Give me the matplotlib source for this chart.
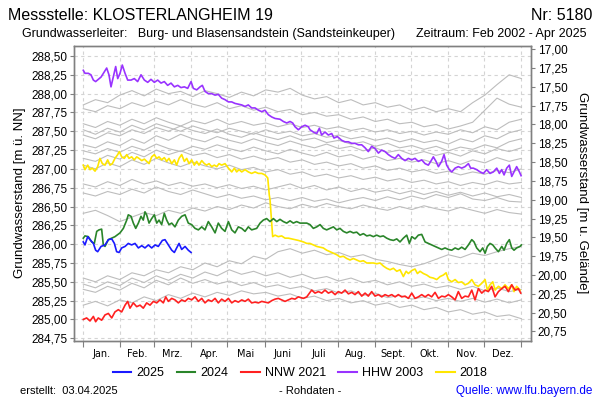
import numpy as np
import matplotlib
matplotlib.use("Agg")
import matplotlib.pyplot as plt
from matplotlib.lines import Line2D

plt.rcParams["font.family"] = ["Liberation Sans", "DejaVu Sans"]

# Gelaendeoberkante (m ue. NN), links Wasserstand, rechts Flurabstand
GOK = 305.59

months = ["Jan.", "Feb.", "Mrz.", "Apr.", "Mai", "Juni", "Juli", "Aug.",
          "Sept.", "Okt.", "Nov.", "Dez."]
month_starts = [0, 31, 59, 90, 120, 151, 181, 212, 243, 273, 304, 334, 365]
left_ticks = [284.75, 285.00, 285.25, 285.50, 285.75, 286.00, 286.25, 286.50,
              286.75, 287.00, 287.25, 287.50, 287.75, 288.00, 288.25, 288.50]
right_ticks = [17.00, 17.25, 17.50, 17.75, 18.00, 18.25, 18.50, 18.75, 19.00,
               19.25, 19.50, 19.75, 20.00, 20.25, 20.50, 20.75]

# 2025 (blau)
days_2025 = [0.0, 1.4, 3.7, 5.6, 8.4, 10.3, 12.0, 14.8, 18.1, 20.9, 23.7, 25.9,
             27.8, 29.8, 32.0, 34.8, 37.5, 40.3, 43.1, 45.9, 48.7, 51.4, 54.2,
             57.0, 59.8, 62.5, 65.9, 68.1, 70.9, 73.7, 75.9, 77.8, 79.8, 82.0,
             84.8, 87.5, 89.8]
vals_2025 = [286.03, 285.99, 286.10, 286.06, 286.01, 285.92, 285.90, 285.97,
             285.99, 286.06, 286.07, 286.01, 285.90, 285.89, 285.95, 285.97,
             286.01, 285.99, 286.01, 285.95, 285.98, 285.95, 285.99, 285.95,
             285.99, 285.97, 286.05, 286.06, 285.99, 285.92, 285.89, 285.95,
             286.01, 285.93, 285.97, 285.92, 285.89]

# 2024 (gruen)
days_2024 = [0.0, 1.4, 4.2, 7.0, 9.2, 11.2, 13.1, 15.3, 16.7, 18.1, 20.9, 23.7,
             26.4, 30.6, 33.4, 36.2, 37.5, 39.8, 41.7, 43.7, 45.9, 48.1, 50.0,
             51.4, 52.8, 54.8, 57.0, 59.2, 61.2, 63.1, 65.3, 67.5, 69.5, 71.4,
             73.7, 76.4, 79.2, 82.0, 84.8, 87.5, 90.3, 93.1, 95.9, 98.7, 101.4,
             104.2, 107.0, 109.8, 112.5, 115.3, 118.1, 120.9, 123.7, 126.4,
             129.2, 132.0, 134.8, 137.5, 140.3, 144.5, 147.3, 150.0, 152.8,
             155.6, 158.4, 161.2, 163.9, 166.7, 169.5, 172.3, 175.0, 177.8,
             180.6,
             183.4, 186.2, 188.9, 191.7, 194.5, 197.3, 200.0, 202.8, 205.6,
             208.4, 211.2, 213.9, 216.7, 219.5, 222.3, 225.0, 227.8, 230.6,
             233.4, 236.2, 238.9, 241.7, 244.5, 247.3, 250.0, 252.8, 255.6,
             258.4, 261.2, 263.9, 266.7, 269.5, 271.7, 273.7, 276.4, 279.2,
             282.0, 284.8, 287.5, 290.3, 293.1, 295.9, 298.7, 301.4, 304.2,
             307.0, 309.8, 312.5, 315.3, 318.1, 320.9, 323.7, 325.6, 327.8,
             330.6, 332.8, 334.8, 336.7, 338.9, 341.2, 343.1, 345.9, 348.7,
             350.6, 352.8, 355.0, 357.0, 358.9, 361.1, 363.9, 365.0]
vals_2024 = [286.08, 286.11, 286.10, 286.03, 286.01, 286.17, 286.19, 286.20,
             285.99, 285.97, 286.06, 286.08, 286.10, 286.15, 286.21, 286.32,
             286.39, 286.37, 286.28, 286.21, 286.28, 286.37, 286.32, 286.43,
             286.39, 286.28, 286.34, 286.39, 286.28, 286.32, 286.26, 286.41,
             286.32, 286.26, 286.28, 286.23, 286.32, 286.37, 286.39, 286.28,
             286.26, 286.21, 286.19, 286.23, 286.19, 286.30, 286.23, 286.15,
             286.28, 286.21, 286.17, 286.30, 286.19, 286.15, 286.23, 286.21,
             286.17, 286.23, 286.19, 286.21, 286.28, 286.32, 286.34, 286.30,
             286.34, 286.30, 286.33, 286.30, 286.28, 286.31, 286.28, 286.30,
             286.28,
             286.28, 286.28, 286.26, 286.21, 286.23, 286.26, 286.21, 286.19,
             286.21, 286.23, 286.19, 286.21, 286.17, 286.15, 286.17, 286.15,
             286.16, 286.12, 286.14, 286.11, 286.12, 286.10, 286.12, 286.10,
             286.11, 286.08, 286.06, 286.05, 286.07, 286.03, 286.08, 286.12,
             286.01, 286.10, 286.07, 286.12, 286.13, 286.03, 286.01, 285.99,
             285.97, 285.95, 285.93, 285.95, 285.93, 285.92, 285.95, 285.93,
             285.96, 285.93, 285.99, 286.06, 286.03, 285.95, 285.90, 285.95,
             285.88, 285.97, 286.01, 285.99, 285.95, 285.90, 285.97, 285.92,
             286.01, 286.06, 285.95, 285.92, 285.95, 285.97, 285.99]

# NNW 2021 (rot)
days_2021 = [0.0, 2.8, 5.6, 8.4, 10.3, 12.5, 15.3, 18.1, 20.9, 23.7, 26.4, 29.2,
             32.0, 34.8, 37.0, 38.9, 41.7, 44.5, 47.3, 50.0, 52.8, 55.6, 58.4,
             61.2, 63.9, 66.7, 68.7, 70.9, 73.7, 76.4, 79.2, 82.0, 84.8, 87.5,
             90.3, 93.1, 95.9, 98.7, 101.4, 104.2, 107.0, 109.8, 112.5, 115.3,
             118.1, 120.9, 123.7, 126.4, 129.2, 132.0, 134.8, 137.5, 140.3,
             143.1, 145.9, 148.7, 151.4, 154.2, 157.0, 159.8, 162.5, 165.3,
             168.1, 170.9, 173.7, 176.4, 179.2,
             183.4, 186.2, 190.3, 193.1, 195.9, 198.7, 201.4, 204.2, 207.0,
             209.8, 212.5, 215.3, 218.1, 220.9, 223.7, 226.4, 229.2, 232.0,
             234.8, 237.5, 240.3, 243.1, 245.9, 248.7, 251.4, 254.2, 257.0,
             259.8, 262.5, 265.3, 268.1, 270.9, 273.7, 276.4, 279.2, 282.0,
             284.8, 287.5, 290.3, 293.1, 295.9, 298.7, 301.4, 304.2, 307.0,
             309.8, 312.5, 315.3, 318.1, 320.9, 323.7, 326.4, 329.2, 332.0,
             334.8, 337.5, 340.3, 343.1, 345.9, 348.7, 351.4, 354.2, 357.0,
             359.8, 362.5, 364.5]
vals_2021 = [285.00, 285.02, 284.98, 285.04, 284.97, 285.02, 284.99, 285.06,
             285.08, 285.02, 285.10, 285.13, 285.10, 285.19, 285.24, 285.15,
             285.22, 285.17, 285.19, 285.15, 285.22, 285.19, 285.24, 285.22,
             285.26, 285.22, 285.30, 285.24, 285.28, 285.26, 285.22, 285.26,
             285.24, 285.28, 285.26, 285.30, 285.24, 285.28, 285.22, 285.26,
             285.24, 285.28, 285.22, 285.27, 285.24, 285.28, 285.22, 285.25,
             285.23, 285.26, 285.24, 285.27, 285.22, 285.23, 285.22, 285.24,
             285.23, 285.22, 285.25, 285.27, 285.28, 285.26, 285.24, 285.26,
             285.28, 285.27, 285.30,
             285.28, 285.30, 285.39, 285.35, 285.37, 285.35, 285.39, 285.35,
             285.37, 285.33, 285.37, 285.35, 285.39, 285.34, 285.36, 285.33,
             285.37, 285.31, 285.35, 285.31, 285.37, 285.31, 285.33, 285.30,
             285.33, 285.31, 285.33, 285.30, 285.33, 285.30, 285.31, 285.28,
             285.35, 285.28, 285.30, 285.33, 285.30, 285.33, 285.30, 285.36,
             285.28, 285.31, 285.30, 285.33, 285.30, 285.26, 285.37, 285.28,
             285.31, 285.30, 285.39, 285.26, 285.41, 285.35, 285.39, 285.37,
             285.44, 285.30, 285.37, 285.41, 285.44, 285.37, 285.46, 285.39,
             285.41, 285.35]

# HHW 2003 (violett)
days_2003 = [0.0, 1.4, 4.2, 6.4, 8.4, 10.3, 12.5, 14.8, 17.5, 19.5, 21.4, 23.1,
             25.0, 27.0, 28.7, 30.6, 32.5, 34.8, 37.0, 39.8, 42.5, 45.3, 48.1,
             50.9, 53.7, 56.4, 59.2, 62.0, 64.8, 67.5, 70.3, 73.1, 75.9, 78.7,
             81.4, 84.2, 87.0, 89.8, 91.7, 94.5, 97.3, 99.2, 101.4, 104.2,
             107.0, 109.8, 112.5, 115.3, 118.1, 120.9, 123.7, 126.4, 129.2,
             132.0, 134.8, 137.5, 140.3, 143.1, 145.9, 148.7, 151.4, 154.2,
             157.0, 159.8,
             163.9, 166.7, 169.5, 172.3, 174.5, 176.4, 179.2, 182.0, 184.8,
             187.5, 188.9, 191.7, 194.5, 196.7, 198.6, 201.4, 204.2, 207.0,
             208.9, 211.7, 215.3, 218.1, 220.9, 223.6, 226.4, 229.2, 232.0,
             234.8, 237.5, 240.3, 243.1, 245.9, 248.6, 251.4, 254.2, 257.0,
             259.8, 262.5, 265.3, 268.1, 270.9, 273.6, 276.4, 279.2, 282.0,
             284.8, 287.5, 289.5, 291.7, 293.9, 295.9, 298.6, 300.6, 302.8,
             305.0, 307.0, 309.8, 312.5, 315.3, 318.1, 320.9, 322.8, 325.0,
             327.8, 330.6, 333.4, 336.1, 338.9, 341.7, 344.5, 346.7, 348.6,
             350.6, 352.8, 355.0, 357.0, 358.9, 361.1, 363.4, 364.8]
vals_2003 = [288.31, 288.27, 288.27, 288.25, 288.18, 288.16, 288.19, 288.22,
             288.29, 288.34, 288.25, 288.09, 288.22, 288.36, 288.20, 288.27,
             288.38, 288.27, 288.18, 288.18, 288.20, 288.16, 288.25, 288.18,
             288.15, 288.19, 288.15, 288.18, 288.14, 288.16, 288.11, 288.14,
             288.09, 288.11, 288.08, 288.09, 288.07, 288.16, 288.07, 288.05,
             288.09, 288.11, 288.03, 288.00, 288.00, 287.98, 287.99, 287.94,
             287.92, 287.89, 287.89, 287.87, 287.86, 287.85, 287.83, 287.85,
             287.81, 287.81, 287.78, 287.76, 287.78, 287.72, 287.69, 287.67,
             287.66, 287.63, 287.61, 287.63, 287.61, 287.56, 287.52, 287.56,
             287.58, 287.56, 287.52, 287.49, 287.47, 287.54, 287.45, 287.49,
             287.45, 287.47, 287.41, 287.43, 287.38, 287.36, 287.36, 287.34,
             287.34, 287.32, 287.32, 287.28, 287.23, 287.30, 287.27, 287.21,
             287.25, 287.23, 287.19, 287.16, 287.14, 287.19, 287.14, 287.11,
             287.14, 287.12, 287.14, 287.10, 287.12, 287.07, 287.05, 287.10,
             287.16, 287.10, 287.03, 287.10, 287.19, 287.05, 286.99, 286.96,
             287.01, 287.03, 287.01, 287.03, 287.07, 287.01, 287.01, 286.99,
             286.96, 286.94, 286.99, 286.94, 286.96, 287.01, 286.94, 286.99,
             286.92, 287.01, 287.05, 286.90, 286.96, 287.03, 286.96, 286.91]

# 2018 (gelb)
days_2018 = [0.0, 1.4, 3.7, 5.6, 7.5, 9.8, 12.0, 13.9, 15.9, 18.1, 20.3, 22.3,
             24.2, 26.4, 28.7, 30.0, 32.0, 34.2, 36.2, 38.1, 40.3, 42.5, 44.5,
             46.4, 48.7, 50.9, 52.8, 54.8, 57.0, 59.2, 61.2, 63.1, 65.3, 67.5,
             69.5, 71.4, 73.7, 75.9, 77.8, 79.8, 82.0, 84.2, 86.2, 88.1, 90.3,
             92.5, 94.5, 96.4, 98.7, 100.9, 102.8, 104.8, 107.0, 109.2, 111.2,
             113.1, 115.3, 118.1, 120.9, 123.7, 125.9, 127.8, 129.8, 132.0,
             134.8, 137.5, 140.3, 143.1, 145.9, 148.7, 151.4, 153.7, 155.0,
             155.6, 157.0, 157.8, 159.8, 162.5, 165.3, 168.1, 170.9, 173.7,
             176.4, 179.2,
             183.4, 186.2, 188.9, 191.7, 194.5, 197.3, 200.0, 202.8, 205.6,
             208.4, 211.2, 213.9, 216.7, 219.5, 222.3, 225.0, 227.8, 230.6,
             233.4, 236.2, 238.9, 241.7, 244.5, 247.3, 250.0, 252.8, 255.6,
             258.4, 261.2, 263.9, 266.7, 269.0, 270.9, 273.7, 276.4, 278.4,
             280.6, 283.4, 286.2, 288.9, 291.7, 294.5, 297.3, 300.0, 302.3,
             304.2, 307.0, 309.8, 312.5, 315.3, 318.1, 320.9, 323.7, 326.4,
             329.2, 332.0, 334.8, 336.7, 338.9, 341.2, 343.1, 345.9, 348.7,
             351.4, 354.2, 357.0, 358.9, 361.1, 363.9]
vals_2018 = [287.05, 286.99, 287.05, 286.99, 287.01, 286.97, 287.03, 287.14,
             287.07, 287.05, 287.12, 287.05, 287.07, 287.14, 287.19, 287.23,
             287.16, 287.14, 287.19, 287.14, 287.16, 287.12, 287.16, 287.14,
             287.11, 287.13, 287.10, 287.07, 287.16, 287.19, 287.14, 287.16,
             287.12, 287.15, 287.10, 287.14, 287.07, 287.12, 287.05, 287.14,
             287.19, 287.10, 287.14, 287.07, 287.12, 287.05, 287.10, 287.05,
             287.11, 287.07, 287.05, 287.07, 287.03, 287.05, 287.03, 287.07,
             287.05, 287.07, 287.01, 286.96, 287.01, 286.96, 286.99, 286.96,
             286.99, 286.96, 286.94, 286.96, 286.94, 286.94, 286.92, 286.88,
             286.65, 286.59, 286.28, 286.10, 286.12, 286.10, 286.11, 286.08,
             286.08, 286.07, 286.06, 286.05,
             286.03, 286.01, 286.01, 285.99, 285.97, 285.96, 285.95, 285.92,
             285.90, 285.88, 285.86, 285.83, 285.84, 285.81, 285.79, 285.81,
             285.79, 285.77, 285.78, 285.75, 285.75, 285.75, 285.74, 285.75,
             285.71, 285.68, 285.66, 285.68, 285.64, 285.66, 285.57, 285.64,
             285.61, 285.65, 285.67, 285.61, 285.64, 285.61, 285.59, 285.56,
             285.55, 285.53, 285.57, 285.59, 285.62, 285.53, 285.50, 285.53,
             285.49, 285.50, 285.46, 285.48, 285.53, 285.46, 285.44, 285.48,
             285.53, 285.39, 285.46, 285.50, 285.39, 285.44, 285.41, 285.46,
             285.41, 285.46, 285.37, 285.44, 285.39]

grey_days = np.linspace(0, 365, 37)
grey_years = [
    [287.85, 287.92, 287.88, 287.98, 288.04, 287.97, 288.06, 288.00, 288.03, 287.96,
     288.04, 288.00, 287.95, 288.02, 287.97, 288.05, 288.02, 288.07, 287.98, 287.93,
     287.96, 287.88, 287.92, 287.85, 287.88, 287.82, 287.85, 287.78, 287.82, 287.76,
     287.80, 287.76, 287.88, 287.98, 288.12, 288.25, 288.20],
    [287.80, 287.76, 287.84, 287.80, 287.88, 287.83, 287.90, 287.85, 287.92, 287.86,
     287.82, 287.88, 287.80, 287.84, 287.78, 287.82, 287.76, 287.79, 287.72, 287.75,
     287.70, 287.72, 287.66, 287.69, 287.63, 287.66, 287.60, 287.62, 287.56, 287.59,
     287.53, 287.57, 287.62, 287.78, 287.94, 287.86, 287.82],
    [287.60, 287.55, 287.63, 287.58, 287.66, 287.60, 287.68, 287.62, 287.57, 287.64,
     287.60, 287.66, 287.59, 287.63, 287.58, 287.61, 287.56, 287.60, 287.55, 287.58,
     287.53, 287.56, 287.51, 287.54, 287.49, 287.52, 287.47, 287.50, 287.45, 287.49,
     287.46, 287.52, 287.48, 287.56, 287.52, 287.62, 287.66],
    [287.52, 287.46, 287.54, 287.49, 287.58, 287.52, 287.60, 287.55, 287.50, 287.57,
     287.52, 287.48, 287.54, 287.50, 287.46, 287.52, 287.47, 287.50, 287.44, 287.47,
     287.42, 287.45, 287.40, 287.43, 287.38, 287.41, 287.36, 287.40, 287.35, 287.38,
     287.33, 287.40, 287.36, 287.44, 287.40, 287.48, 287.52],
    [287.45, 287.40, 287.48, 287.44, 287.52, 287.47, 287.55, 287.50, 287.57, 287.51,
     287.47, 287.53, 287.46, 287.42, 287.48, 287.43, 287.39, 287.44, 287.38, 287.41,
     287.35, 287.38, 287.33, 287.36, 287.30, 287.34, 287.28, 287.31, 287.26, 287.30,
     287.24, 287.29, 287.26, 287.32, 287.28, 287.36, 287.40],
    [287.32, 287.28, 287.36, 287.31, 287.40, 287.34, 287.44, 287.38, 287.46, 287.40,
     287.36, 287.43, 287.38, 287.34, 287.40, 287.35, 287.31, 287.37, 287.32, 287.28,
     287.33, 287.27, 287.30, 287.24, 287.28, 287.22, 287.25, 287.19, 287.23, 287.18,
     287.22, 287.17, 287.24, 287.20, 287.27, 287.23, 287.28],
    [287.24, 287.20, 287.27, 287.22, 287.30, 287.25, 287.33, 287.27, 287.23, 287.30,
     287.26, 287.32, 287.27, 287.23, 287.29, 287.24, 287.20, 287.26, 287.21, 287.17,
     287.22, 287.16, 287.19, 287.13, 287.17, 287.11, 287.14, 287.09, 287.12, 287.07,
     287.11, 287.06, 287.12, 287.08, 287.15, 287.10, 287.14],
    [287.14, 287.10, 287.18, 287.13, 287.22, 287.16, 287.25, 287.19, 287.24, 287.18,
     287.21, 287.15, 287.19, 287.13, 287.17, 287.12, 287.15, 287.09, 287.12, 287.06,
     287.09, 287.04, 287.07, 287.01, 287.04, 286.98, 287.01, 286.96, 286.99, 286.94,
     286.97, 286.92, 286.96, 286.93, 286.98, 286.95, 287.00],
    [287.05, 287.00, 287.08, 287.03, 287.12, 287.06, 287.14, 287.08, 287.03, 287.09,
     287.04, 287.00, 287.05, 286.99, 287.02, 286.96, 286.99, 286.93, 286.96, 286.90,
     286.93, 286.88, 286.91, 286.86, 286.89, 286.84, 286.87, 286.82, 286.85, 286.80,
     286.83, 286.78, 286.82, 286.79, 286.84, 286.80, 286.82],
    [286.80, 286.76, 286.83, 286.78, 286.86, 286.80, 286.84, 286.78, 286.82, 286.77,
     286.80, 286.75, 286.79, 286.74, 286.77, 286.72, 286.76, 286.80, 286.74, 286.78,
     286.72, 286.76, 286.70, 286.74, 286.69, 286.72, 286.67, 286.71, 286.66, 286.70,
     286.65, 286.69, 286.64, 286.68, 286.63, 286.66, 286.62],
    [286.68, 286.64, 286.70, 286.66, 286.73, 286.68, 286.76, 286.70, 286.66, 286.72,
     286.67, 286.62, 286.66, 286.61, 286.64, 286.59, 286.62, 286.58, 286.62, 286.57,
     286.60, 286.55, 286.59, 286.62, 286.58, 286.63, 286.59, 286.64, 286.60, 286.66,
     286.62, 286.67, 286.60, 286.58, 286.62, 286.57, 286.56],
    [286.41, 286.45, 286.38, 286.30, 286.36, 286.42, 286.38, 286.45, 286.41, 286.48,
     286.44, 286.50, 286.46, 286.52, 286.48, 286.55, 286.50, 286.47, 286.53, 286.49,
     286.54, 286.50, 286.47, 286.52, 286.48, 286.45, 286.50, 286.46, 286.51, 286.47,
     286.44, 286.49, 286.45, 286.41, 286.46, 286.42, 286.40],
    [285.55, 285.50, 285.58, 285.53, 285.62, 285.58, 285.66, 285.62, 285.70, 285.66,
     285.75, 285.70, 285.78, 285.74, 285.84, 285.80, 285.90, 285.94, 285.88, 285.92,
     285.86, 285.89, 285.83, 285.86, 285.80, 285.77, 285.73, 285.70, 285.74, 285.80,
     285.86, 285.82, 285.88, 285.85, 285.90, 285.94, 285.97],
    [285.47, 285.42, 285.50, 285.45, 285.55, 285.49, 285.58, 285.52, 285.60, 285.55,
     285.63, 285.58, 285.66, 285.60, 285.64, 285.58, 285.62, 285.56, 285.60, 285.54,
     285.57, 285.51, 285.55, 285.49, 285.52, 285.46, 285.50, 285.44, 285.47, 285.42,
     285.45, 285.40, 285.44, 285.38, 285.42, 285.37, 285.40],
    [285.40, 285.36, 285.44, 285.39, 285.48, 285.42, 285.52, 285.46, 285.55, 285.48,
     285.53, 285.47, 285.51, 285.45, 285.49, 285.43, 285.46, 285.41, 285.44, 285.38,
     285.41, 285.35, 285.38, 285.32, 285.35, 285.29, 285.32, 285.27, 285.30, 285.25,
     285.28, 285.24, 285.28, 285.23, 285.27, 285.22, 285.26],
    [285.19, 285.24, 285.18, 285.26, 285.22, 285.30, 285.25, 285.33, 285.28, 285.35,
     285.30, 285.36, 285.32, 285.38, 285.34, 285.36, 285.31, 285.34, 285.28, 285.31,
     285.25, 285.28, 285.22, 285.25, 285.19, 285.22, 285.16, 285.19, 285.13, 285.16,
     285.10, 285.13, 285.07, 285.10, 285.04, 285.06, 285.01],
]


def fmt(v):
    return f"{v:.2f}".replace(".", ",")


fig = plt.figure(figsize=(6, 4), dpi=100)
ax = fig.add_axes([0.1238, 0.1483, 0.7607, 0.7375])
ylo, yhi = 284.718, 288.637
ax.set_xlim(-7.5, 372.8)
ax.set_ylim(ylo, yhi)

for vals in grey_years:
    ax.plot(grey_days, vals, color="#bdbdbd", lw=0.8, zorder=2)

series = [
    (days_2018, vals_2018, "#ffe600", "2018"),
    (days_2003, vals_2003, "#9933ff", "HHW 2003"),
    (days_2021, vals_2021, "#ff2020", "NNW 2021"),
    (days_2024, vals_2024, "#2a852a", "2024"),
    (days_2025, vals_2025, "#1a1aff", "2025"),
]
for d, v, c, lab in series:
    ax.plot(d, v, color=c, lw=1.2, zorder=3)

grid_kw = dict(color="#d4d4d4", lw=0.8, ls=(0, (3, 3)), zorder=1)
for t in left_ticks:
    ax.axhline(t, **grid_kw)
for m in month_starts:
    ax.axvline(m, **grid_kw)

ax.set_xticks(month_starts)
ax.set_xticklabels([])
mids = [(month_starts[i] + month_starts[i + 1]) / 2 for i in range(12)]
ax.set_xticks(mids, minor=True)
ax.set_xticklabels(months, minor=True, fontsize=7, family="DejaVu Sans")
ax.tick_params(axis="x", which="major", length=4, color="#808080", direction="out")
ax.tick_params(axis="x", which="minor", length=0, pad=6)

ax.set_yticks(left_ticks)
ax.set_yticklabels([fmt(t) for t in left_ticks], fontsize=8.5)
ax.tick_params(axis="y", length=3, color="#808080", pad=2)

ax2 = ax.twinx()
ax2.set_ylim(GOK - ylo, GOK - yhi)
ax2.set_yticks(right_ticks)
ax2.set_yticklabels([fmt(t) for t in right_ticks], fontsize=8.5)
ax2.tick_params(axis="y", length=3, color="#808080", pad=2)

for a in (ax, ax2):
    for s in a.spines.values():
        s.set_color("#808080")
        s.set_linewidth(1.0)

fig.text(20 / 600, 0.5 * (0.1483 + 0.8858), "Grundwasserstand [m ü. NN]",
         rotation=90, ha="center", va="center", fontsize=9.5)
fig.text(582 / 600, 0.5 * (0.1483 + 0.8858), "Grundwasserstand [m u. Gelände]",
         rotation=270, ha="center", va="center", fontsize=9.5)

fig.text(8 / 600, 1 - 15 / 400, "Messstelle: KLOSTERLANGHEIM 19",
         ha="left", va="center", fontsize=11.5)
fig.text(592 / 600, 1 - 15 / 400, "Nr: 5180", ha="right", va="center",
         fontsize=11.5)
fig.text(22 / 600, 1 - 34 / 400,
         "Grundwasserleiter:   Burg- und Blasensandstein (Sandsteinkeuper)",
         ha="left", va="center", fontsize=9)
fig.text(586 / 600, 1 - 34 / 400, "Zeitraum: Feb 2002 - Apr 2025",
         ha="right", va="center", fontsize=9)

order = [4, 3, 2, 1, 0]
handles = [Line2D([], [], color=series[i][2], lw=1.5) for i in order]
labels = [series[i][3] for i in order]
fig.legend(handles, labels, loc="center", bbox_to_anchor=(300 / 600, 1 - 373 / 400),
           ncol=5, frameon=False, fontsize=9, handlelength=1.5,
           handletextpad=0.4, columnspacing=1.0)

fig.text(20 / 600, 1 - 391 / 400, "erstellt:  03.04.2025", ha="left",
         va="center", fontsize=8)
fig.text(310 / 600, 1 - 391 / 400, "- Rohdaten -", ha="center", va="center",
         fontsize=8)
fig.text(592 / 600, 1 - 391 / 400, "Quelle: www.lfu.bayern.de", ha="right",
         va="center", fontsize=8.5, color="#0000ff")

fig.savefig("out.png", dpi=100)
